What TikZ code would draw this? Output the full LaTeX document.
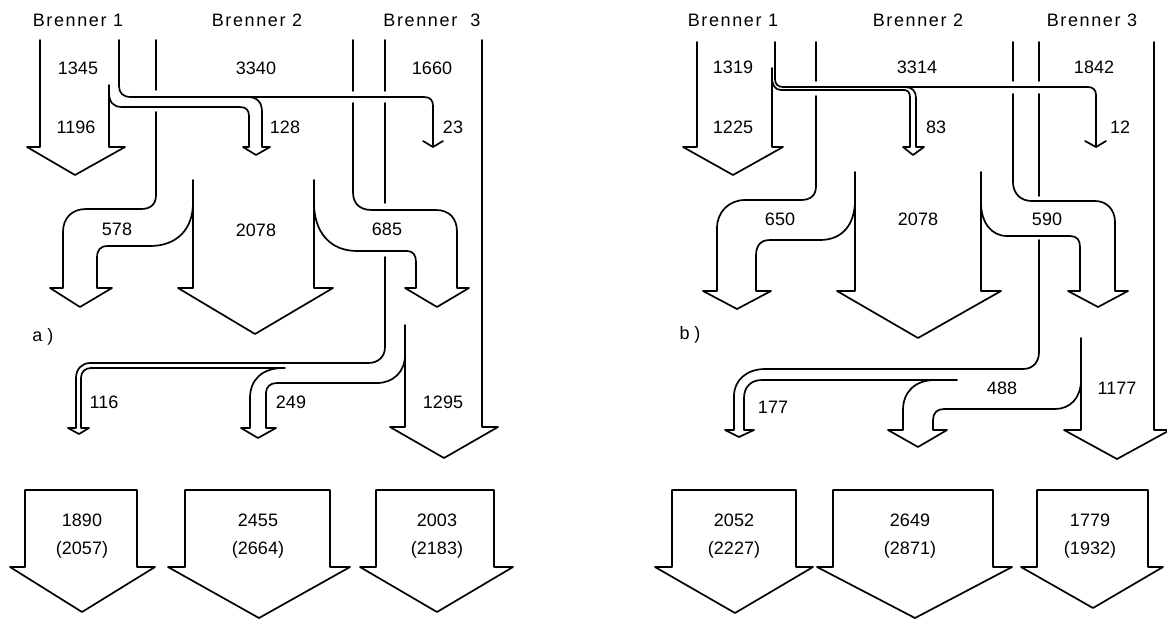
\documentclass[tikz,border=0pt]{standalone}
\usepackage{fontspec}
\newfontfamily\flowfont{Liberation Sans}
\newfontfamily\titlefont[LetterSpace=9]{Liberation Sans}
\tikzset{
  band/.style={draw=black, line width=1.7pt, line join=round, line cap=round},
  num/.style={font=\flowfont\fontsize{18}{20}\selectfont, inner sep=0pt, text=black},
  burner/.style={font=\titlefont\fontsize{18}{20}\selectfont, inner sep=0pt, text=black},
  outlet/.style={band},
}
\begin{document}
\begin{tikzpicture}[x=1pt, y={(0pt,-1pt)}]
\fill[white] (0,0) rectangle (1167,619);
\useasboundingbox (0,0) rectangle (1167,619);

% ================= panel a =================
% burner 1: main stream 1196 and side branch 128 / 23
\draw[band] (40,40) -- (40,147) -- (27,147) -- (75,175) -- (125,147) -- (109,147) -- (109,85);
\draw[band] (119,40) -- (119,86) .. controls (119,93) and (123,97) .. (131,97)
  -- (424,97) .. controls (430,97) and (433,100) .. (433,106) -- (433,147);
\draw[band] (423,141) -- (433,147) -- (443,141);
\draw[band] (109,92) .. controls (109,102) and (113,107) .. (122,107) -- (240,107)
  .. controls (246,107) and (249,110) .. (249,116) -- (249,147) -- (243,147) -- (256,155)
  -- (270,147) -- (262,147) -- (262,112) .. controls (262,102) and (257,97) .. (248,97);

% burner 2: split into 578 / 2078 / 685
\draw[band] (156,40) -- (156,90);
\draw[band] (156,112) -- (156,195) .. controls (156,204) and (151,209) .. (141,209) -- (86,209)
  .. controls (72,209) and (63,218) .. (63,232) -- (63,288) -- (50,288) -- (80,307)
  -- (112,288) -- (97,288) -- (97,258) .. controls (97,250) and (100,246) .. (108,246)
  -- (150,246) .. controls (177,246) and (193,229) .. (193,203);
\draw[band] (193,180) -- (193,288) -- (178,288) -- (255,334) -- (333,288) -- (314,288) -- (314,180);
\draw[band] (353,40) -- (353,91);
\draw[band] (353,103) -- (353,192) .. controls (353,203) and (359,210) .. (372,210) -- (436,210)
  .. controls (449,210) and (457,218) .. (457,232) -- (457,288) -- (469,288) -- (437,307)
  -- (405,288) -- (416,288) -- (416,262) .. controls (416,255) and (413,251) .. (407,251)
  -- (357,251) .. controls (330,251) and (314,232) .. (314,203);

% burner 3: split into 116 / 249 / 1295
\draw[band] (385,40) -- (385,91);
\draw[band] (385,103) -- (385,203);
\draw[band] (385,257) -- (385,347) .. controls (385,357) and (378,363) .. (368,363) -- (90,363)
  .. controls (82,363) and (76,369) .. (76,378) -- (76,428) -- (68,428) -- (79,434)
  -- (89,428) -- (81,428) -- (81,378) .. controls (81,372) and (85,368) .. (91,368) -- (285,368);
\draw[band] (283,368) .. controls (262,368) and (250,380) .. (250,398) -- (250,428) -- (241,428)
  -- (258,438) -- (276,428) -- (266,428) -- (266,393) .. controls (266,387) and (270,383) .. (277,383)
  -- (377,383) .. controls (393,383) and (405,372) .. (405,355);
\draw[band] (405,325) -- (405,427) -- (390,427) -- (444,458) -- (498,427) -- (482,427) -- (482,40);

% outlets a
\draw[outlet] (25,490) -- (137,490) -- (137,567) -- (155,567) -- (82,612) -- (10,567) -- (25,567) -- cycle;
\draw[outlet] (185,490) -- (330,490) -- (330,567) -- (350,567) -- (259,618) -- (168,567) -- (185,567) -- cycle;
\draw[outlet] (376,490) -- (494,490) -- (494,567) -- (513,567) -- (437,612) -- (360,567) -- (376,567) -- cycle;

% labels a
\node[burner] (aB1) at (78,20) {Brenner 1};
\node[burner] (aB2) at (257,20) {Brenner 2};
\node[burner] (aB3) at (432,20) {Brenner\ \ 3};
\node[num] (a1345) at (78,68) {1345};
\node[num] (a3340) at (256,68) {3340};
\node[num] (a1660) at (432,68) {1660};
\node[num] (a1196) at (76,127) {1196};
\node[num] (a128) at (285,127) {128};
\node[num] (a23) at (453,127) {23};
\node[num] (a578) at (117,229) {578};
\node[num] (a2078) at (256,230) {2078};
\node[num] (a685) at (387,229) {685};
\node[num] (alab) at (43,337) {a )};
\node[num] (a116) at (104,402) {116};
\node[num] (a249) at (291,402) {249};
\node[num] (a1295) at (443,402) {1295};
\node[num, align=center] (aout1) at (82,536) {1890\\[8pt](2057)};
\node[num, align=center] (aout2) at (258,536) {2455\\[8pt](2664)};
\node[num, align=center] (aout3) at (437,536) {2003\\[8pt](2183)};

% ================= panel b =================
% burner 1
\draw[band] (697,42) -- (697,147) -- (683,147) -- (733,175) -- (783,147) -- (772,147) -- (772,68);
\draw[band] (775,42) -- (775,79) .. controls (775,84) and (778,87) .. (783,87) -- (1088,87)
  .. controls (1093,87) and (1096,90) .. (1096,95) -- (1096,147);
\draw[band] (1085,141) -- (1096,147) -- (1106,141);
\draw[band] (772,77) .. controls (772,85) and (775,90) .. (781,90) -- (904,90)
  .. controls (908,90) and (910,93) .. (910,97) -- (910,147) -- (903,147) -- (913,155)
  -- (924,147) -- (916,147) -- (916,98) .. controls (916,91) and (912,87) .. (905,87);

% burner 2: split into 650 / 2078 / 590
\draw[band] (816,42) -- (816,81);
\draw[band] (816,96) -- (816,186) .. controls (816,195) and (811,200) .. (801,200) -- (745,200)
  .. controls (729,200) and (717,212) .. (717,228) -- (717,291) -- (703,291) -- (737,309)
  -- (771,291) -- (756,291) -- (756,256) .. controls (756,246) and (760,240) .. (770,240)
  -- (820,240) .. controls (842,240) and (855,225) .. (855,200);
\draw[band] (855,172) -- (855,291) -- (837,291) -- (918,338) -- (1001,291) -- (981,291) -- (981,172);
\draw[band] (1013,42) -- (1013,81);
\draw[band] (1013,94) -- (1013,182) .. controls (1013,193) and (1020,201) .. (1032,201) -- (1095,201)
  .. controls (1107,201) and (1115,210) .. (1115,222) -- (1115,291) -- (1128,291) -- (1098,307)
  -- (1068,291) -- (1080,291) -- (1080,247) .. controls (1080,240) and (1077,236) .. (1070,236)
  -- (1007,236) .. controls (991,236) and (981,222) .. (981,203);

% burner 3: split into 177 / 488 / 1177
\draw[band] (1039,42) -- (1039,81);
\draw[band] (1039,94) -- (1039,196);
\draw[band] (1039,240) -- (1039,352) .. controls (1039,362) and (1033,369) .. (1023,369) -- (765,369)
  .. controls (747,369) and (734,380) .. (734,396) -- (734,430) -- (725,430) -- (739,437)
  -- (754,430) -- (744,430) -- (744,398) .. controls (744,387) and (751,380) .. (762,380) -- (957,380);
\draw[band] (935,380) .. controls (915,380) and (903,392) .. (903,410) -- (903,430) -- (888,430)
  -- (918,447) -- (947,430) -- (933,430) -- (933,420) .. controls (933,413) and (937,409) .. (944,409)
  -- (1055,409) .. controls (1070,409) and (1081,398) .. (1081,380);
\draw[band] (1081,338) -- (1081,430) -- (1064,430) -- (1117,459) -- (1170,430) -- (1154,430) -- (1154,42);

% outlets b
\draw[outlet] (672,490) -- (796,490) -- (796,567) -- (813,567) -- (735,613) -- (655,567) -- (672,567) -- cycle;
\draw[outlet] (833,490) -- (993,490) -- (993,567) -- (1012,567) -- (915,618) -- (817,567) -- (833,567) -- cycle;
\draw[outlet] (1037,490) -- (1148,490) -- (1148,567) -- (1163,567) -- (1093,608) -- (1021,567) -- (1037,567) -- cycle;

% labels b
\node[burner] (bB1) at (733,20) {Brenner 1};
\node[burner] (bB2) at (918,20) {Brenner 2};
\node[burner] (bB3) at (1092,20) {Brenner 3};
\node[num] (b1319) at (733,67) {1319};
\node[num] (b3314) at (917,67) {3314};
\node[num] (b1842) at (1094,67) {1842};
\node[num] (b1225) at (733,127) {1225};
\node[num] (b83) at (936,127) {83};
\node[num] (b12) at (1120,127) {12};
\node[num] (b650) at (780,219) {650};
\node[num] (b2078) at (918,219) {2078};
\node[num] (b590) at (1047,219) {590};
\node[num] (blab) at (690,335) {b )};
\node[num] (b177) at (773,407) {177};
\node[num] (b488) at (1002,388) {488};
\node[num] (b1177) at (1117,388) {1177};
\node[num, align=center] (bout1) at (734,536) {2052\\[8pt](2227)};
\node[num, align=center] (bout2) at (910,536) {2649\\[8pt](2871)};
\node[num, align=center] (bout3) at (1090,536) {1779\\[8pt](1932)};
\end{tikzpicture}
\end{document}
